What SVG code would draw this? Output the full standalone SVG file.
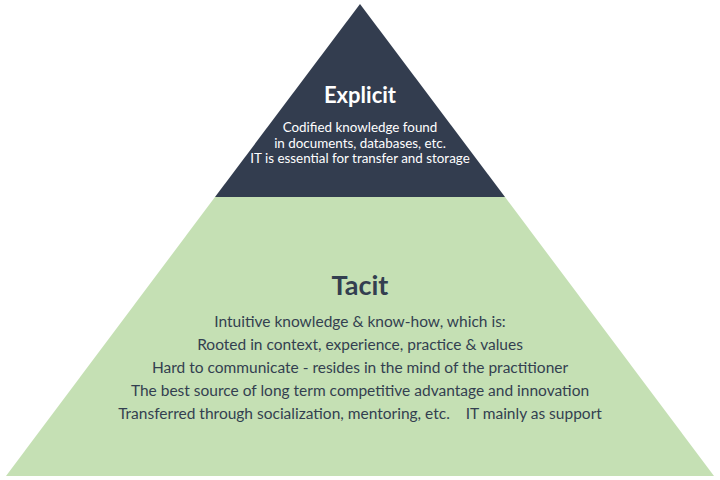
<svg xmlns="http://www.w3.org/2000/svg" width="720" height="480" viewBox="0 0 720 480">
<style>
.t{font-family:Lato,"Noto Sans","Liberation Sans",sans-serif;text-anchor:middle;white-space:pre}
.h{font-weight:700}
.w{fill:#ffffff}
.d{fill:#333f50}
</style>
<rect width="720" height="480" fill="#ffffff"/>
<g id="tacit">
<polygon points="215,197 505,197 714,476 6,476" fill="#c5e0b4"/>
<text class="t h d" x="360" y="295" font-size="27">Tacit</text>
<text class="t d" x="360" y="327" font-size="15.5">Intuitive knowledge &amp; know-how, which is:</text>
<text class="t d" x="360" y="350" font-size="15.5">Rooted in context, experience, practice &amp; values</text>
<text class="t d" x="360" y="373" font-size="15.5">Hard to communicate - resides in the mind of the practitioner</text>
<text class="t d" x="360" y="396" font-size="15.5">The best source of long term competitive advantage and innovation</text>
<text class="t d" x="360" y="419" font-size="15.5">Transferred through socialization, mentoring, etc.    IT mainly as support</text>
</g>
<g id="explicit">
<polygon points="360,4 505,197 215,197" fill="#333d4f"/>
<text class="t h w" x="360" y="103" font-size="22">Explicit</text>
<text class="t w" x="360" y="132" font-size="13.4">Codified knowledge found</text>
<text class="t w" x="360" y="148" font-size="13.4">in documents, databases, etc.</text>
<text class="t w" x="360" y="163" font-size="13.4">IT is essential for transfer and storage</text>
</g>
</svg>
